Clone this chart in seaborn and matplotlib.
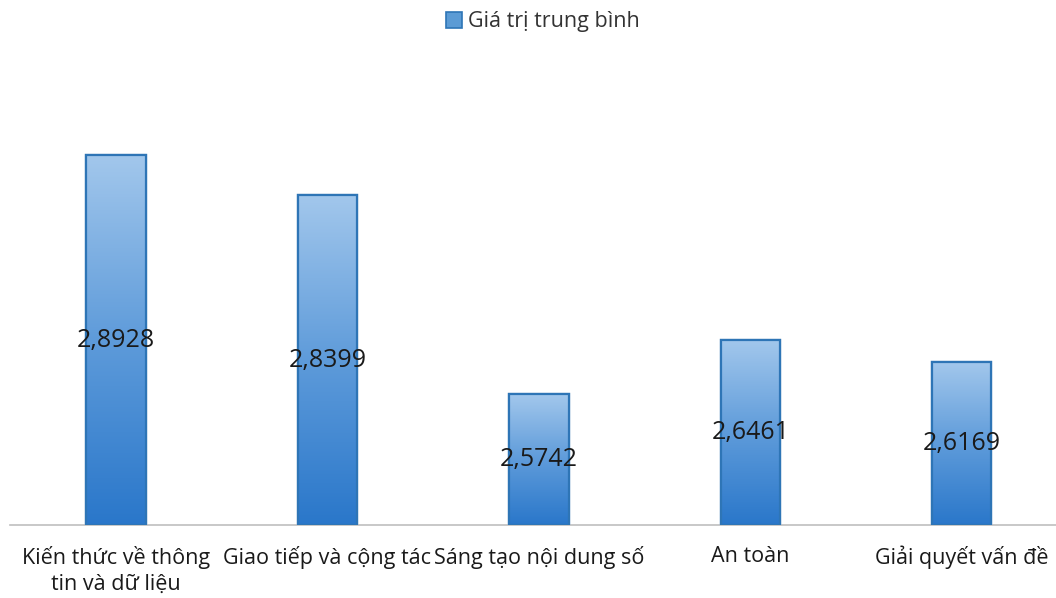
import numpy as np
import pandas as pd
import matplotlib
matplotlib.use("Agg")
import matplotlib.pyplot as plt
import seaborn as sns
from matplotlib.colors import LinearSegmentedColormap
from matplotlib.patches import Patch

categories = ["Kiến thức về thông\ntin và dữ liệu", "Giao tiếp và cộng tác",
              "Sáng tạo nội dung số", "An toàn", "Giải quyết vấn đề"]
values = [2.8928, 2.8399, 2.5742, 2.6461, 2.6169]
value_labels = ["2,8928", "2,8399", "2,5742", "2,6461", "2,6169"]
series_name = "Giá trị trung bình"

sns.set_style("white")
plt.rcParams["font.family"] = ["Open Sans", "DejaVu Sans"]

df = pd.DataFrame({"cat": categories, "val": values})

fig = plt.figure(figsize=(10.56, 5.98), dpi=100)
ax = fig.add_axes([10 / 1056, 73 / 598, 1046 / 1056, 450 / 598])

sns.barplot(data=df, x="cat", y="val", ax=ax, width=0.28,
            color="#5B9BD5", edgecolor="#2E75B6", linewidth=1.6, zorder=2)

ax.set_ylim(2.4, 3.0)
ax.set_xlim(-0.501, 4.445)

# vertical gradient fill, light at top to deeper blue at bottom
cmap = LinearSegmentedColormap.from_list("g", ["#A2C7EC", "#5E9BDA", "#2A77CA"])
grad = np.linspace(0, 1, 256).reshape(-1, 1)
for p in ax.patches:
    x0, y0 = p.get_x(), p.get_y()
    w, h = p.get_width(), p.get_height()
    y_lo = 2.4
    im = ax.imshow(grad, cmap=cmap, aspect="auto", origin="upper",
                   extent=[x0, x0 + w, y_lo, y0 + h], zorder=2.5)
    im.set_clip_path(p)
    ax.add_patch(plt.Rectangle((x0, y_lo), w, y0 + h - y_lo, fill=False,
                               edgecolor="#2E75B6", linewidth=1.6, zorder=3))

for i, (v, lab) in enumerate(zip(values, value_labels)):
    ax.text(i, (v + 2.4) / 2, lab, ha="center", va="center",
            fontsize=18, color="#1a1a1a", zorder=4)

for s in ["top", "right", "left"]:
    ax.spines[s].set_visible(False)
ax.spines["bottom"].set_color("#BFBFBF")
ax.spines["bottom"].set_linewidth(1.2)
ax.set_yticks([])
ax.set_xlabel("")
ax.set_ylabel("")
ax.tick_params(axis="x", length=0, pad=15, labelsize=15.5, labelcolor="#1a1a1a")
for t in ax.get_xticklabels():
    t.set_linespacing(1.3)

handle = Patch(facecolor="#5B9BD5", edgecolor="#2E75B6", linewidth=1.2)
fig.legend([handle], [series_name], loc="center", bbox_to_anchor=(0.514, 1 - 22 / 598),
           frameon=False, fontsize=15.5, handlelength=0.75, handleheight=0.75,
           handletextpad=0.3, labelcolor="#333333")

fig.savefig("out.png", dpi=100)
